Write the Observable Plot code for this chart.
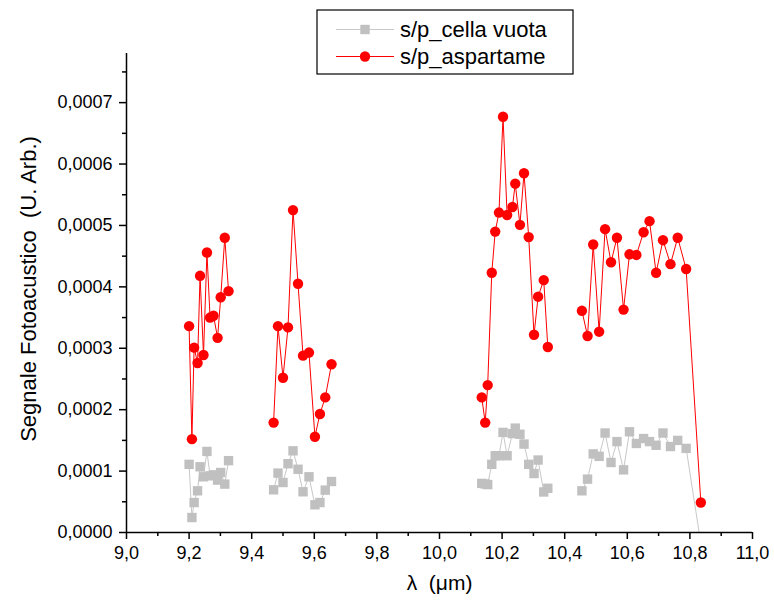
<!DOCTYPE html>
<html><head><meta charset="utf-8">
<script src="https://cdn.jsdelivr.net/npm/d3@7"></script>
<script src="https://cdn.jsdelivr.net/npm/@observablehq/plot@0.6"></script>
<style>
body{margin:0;background:#fff;}
#wrap{position:relative;width:774px;height:609px;}
#legend{position:absolute;left:316px;top:9px;}
</style></head><body>
<div id="wrap"></div>
<script>
// Wavelengths (µm), four laser-line groups
const lambda = [
  9.200, 9.209, 9.216, 9.227, 9.235, 9.246, 9.257, 9.267, 9.278, 9.291, 9.301, 9.314, 9.326,
  9.470, 9.484, 9.500, 9.516, 9.532, 9.548, 9.564, 9.583, 9.602, 9.618, 9.635, 9.655,
  10.135, 10.146, 10.154, 10.167, 10.178, 10.190, 10.203, 10.216, 10.233, 10.242, 10.257, 10.270, 10.285, 10.302, 10.315, 10.333, 10.346,
  10.455, 10.473, 10.491, 10.510, 10.529, 10.548, 10.567, 10.588, 10.607, 10.629, 10.652, 10.671, 10.692, 10.714, 10.738, 10.761, 10.788, 10.835
];
const segmentLengths = [13, 12, 17, 18];
const cellaVuota = [
  0.000111, 0.0000244, 0.0000488, 0.0000679, 0.000107, 0.0000907, 0.000132, 0.0000923, 0.0000939, 0.0000853, 0.0000977, 0.0000788, 0.000117,
  0.0000695, 0.0000967, 0.0000814, 0.000112, 0.000133, 0.000103, 0.0000663, 0.0000907, 0.0000451, 0.0000488, 0.000069, 0.000083,
  0.000080, 0.000079, 0.000078, 0.000111, 0.000125, 0.000125, 0.000163, 0.000125, 0.000161, 0.000170, 0.000160, 0.000144, 0.000111, 0.000096, 0.000118, 0.000066, 0.000072,
  0.0000679, 0.0000869, 0.000128, 0.000124, 0.000162, 0.000114, 0.000148, 0.000102, 0.000164, 0.000145, 0.000153, 0.000148, 0.000142, 0.000162, 0.000140, 0.000150, 0.000137, -0.000018
];
const aspartame = [
  0.000336, 0.000152, 0.000301, 0.000276, 0.000418, 0.000289, 0.000456, 0.000350, 0.000353, 0.000317, 0.000383, 0.000480, 0.000393,
  0.000179, 0.000336, 0.000252, 0.000334, 0.000525, 0.000405, 0.000288, 0.000293, 0.000156, 0.000193, 0.000220, 0.000274,
  0.000220, 0.000179, 0.000240, 0.000423, 0.000490, 0.000521, 0.000677, 0.000517, 0.000530, 0.000568, 0.000501, 0.000585, 0.000481, 0.000322, 0.000384, 0.000411, 0.000302,
  0.000361, 0.000320, 0.000469, 0.000327, 0.000494, 0.000440, 0.000480, 0.000363, 0.000453, 0.000452, 0.000489, 0.000507, 0.000423, 0.000476, 0.000437, 0.000480, 0.000429, 0.0000488
];
const seriesNames = ["s/p_cella vuota", "s/p_aspartame"];
const xMajor = [9.0, 9.2, 9.4, 9.6, 9.8, 10.0, 10.2, 10.4, 10.6, 10.8, 11.0];
const xMinor = [9.1, 9.3, 9.5, 9.7, 9.9, 10.1, 10.3, 10.5, 10.7, 10.9];
const yMajor = [0, 0.0001, 0.0002, 0.0003, 0.0004, 0.0005, 0.0006, 0.0007];
const yMinor = [0.00005, 0.00015, 0.00025, 0.00035, 0.00045, 0.00055, 0.00065, 0.00075];
const xTitle = "λ \u00a0(μm)";
const yTitle = "Segnale Fotoacustico \u00a0(U. Arb.)";

const FONT = '"Liberation Sans", Arial, Helvetica, sans-serif';
const GREY = "#c0c0c0";
const RED = "#ff0000";

const rows = [];
let idx = 0;
segmentLengths.forEach((n, s) => {
  for (let k = 0; k < n; k++, idx++) rows.push({x: lambda[idx], grey: cellaVuota[idx], red: aspartame[idx], seg: s});
});

const fmt = (d, n) => d.toFixed(n).replace(".", ",");

const plot = Plot.plot({
  width: 774, height: 609,
  marginLeft: 126, marginRight: 22, marginBottom: 77, marginTop: 53,
  style: {fontFamily: FONT, fontSize: "18px", color: "#000", background: "#fff", overflow: "visible"},
  x: {domain: [9, 11], label: null},
  y: {domain: [0, 0.00078], label: null},
  marks: [
    Plot.line(rows, {x: "x", y: "grey", z: "seg", stroke: "#c8c8c8", strokeWidth: 1, clip: true}),
    Plot.dot(rows, {x: "x", y: "grey", symbol: "square", fill: GREY, r: 5.3, clip: true}),
    Plot.line(rows, {x: "x", y: "red", z: "seg", stroke: RED, strokeWidth: 1}),
    Plot.dot(rows, {x: "x", y: "red", fill: RED, r: 5.2}),
    Plot.axisX(xMajor, {tickSize: 7, tickPadding: 7, tickFormat: d => fmt(d, 1), fontSize: 18, strokeWidth: 1.5, label: null}),
    Plot.axisX(xMinor, {tickSize: 4, tickFormat: () => "", strokeWidth: 1.5, label: null}),
    Plot.axisY(yMajor, {tickSize: 7, tickPadding: 7, tickFormat: d => fmt(d, 4), fontSize: 18, strokeWidth: 1.5, label: null}),
    Plot.axisY(yMinor.filter(v => v <= 0.00078), {tickSize: 4, tickFormat: () => "", strokeWidth: 1.5, label: null}),
    Plot.ruleY([0], {stroke: "#000", strokeWidth: 1.5}),
    Plot.ruleX([9], {stroke: "#000", strokeWidth: 1.5}),
    Plot.text([yTitle], {text: d => d, frameAnchor: "left", textAnchor: "middle", dx: -98, dy: -4, rotate: -90, fontSize: 22, fill: "#000"}),
    Plot.text([xTitle], {text: d => d, frameAnchor: "bottom", dy: 57, fontSize: 21, fill: "#000"})
  ]
});

const wrap = document.getElementById("wrap");
wrap.appendChild(plot);

// Legend (inside the plot area, as in the reference)
const ns = "http://www.w3.org/2000/svg";
const leg = document.createElementNS(ns, "svg");
leg.setAttribute("id", "legend");
leg.setAttribute("width", 260);
leg.setAttribute("height", 68);
leg.style.fontFamily = FONT;
const add = (tag, attrs, text) => {
  const el = document.createElementNS(ns, tag);
  for (const k in attrs) el.setAttribute(k, attrs[k]);
  if (text != null) el.textContent = text;
  leg.appendChild(el);
  return el;
};
add("rect", {x: 1, y: 1, width: 256, height: 64, fill: "#fff", stroke: "#000", "stroke-width": 1.2});
const rowY = [20.5, 47.5];
// grey row
add("line", {x1: 20, x2: 78, y1: rowY[0], y2: rowY[0], stroke: "#c8c8c8", "stroke-width": 1});
add("rect", {x: 49 - 4.7, y: rowY[0] - 4.7, width: 9.4, height: 9.4, fill: GREY});
add("text", {x: 84, y: rowY[0], "dominant-baseline": "central", "font-size": 22, fill: "#000"}, seriesNames[0]);
// red row
add("line", {x1: 20, x2: 78, y1: rowY[1], y2: rowY[1], stroke: RED, "stroke-width": 1});
add("circle", {cx: 49, cy: rowY[1], r: 5.2, fill: RED});
add("text", {x: 84, y: rowY[1], "dominant-baseline": "central", "font-size": 22, fill: "#000"}, seriesNames[1]);
wrap.appendChild(leg);
</script>
</body></html>
